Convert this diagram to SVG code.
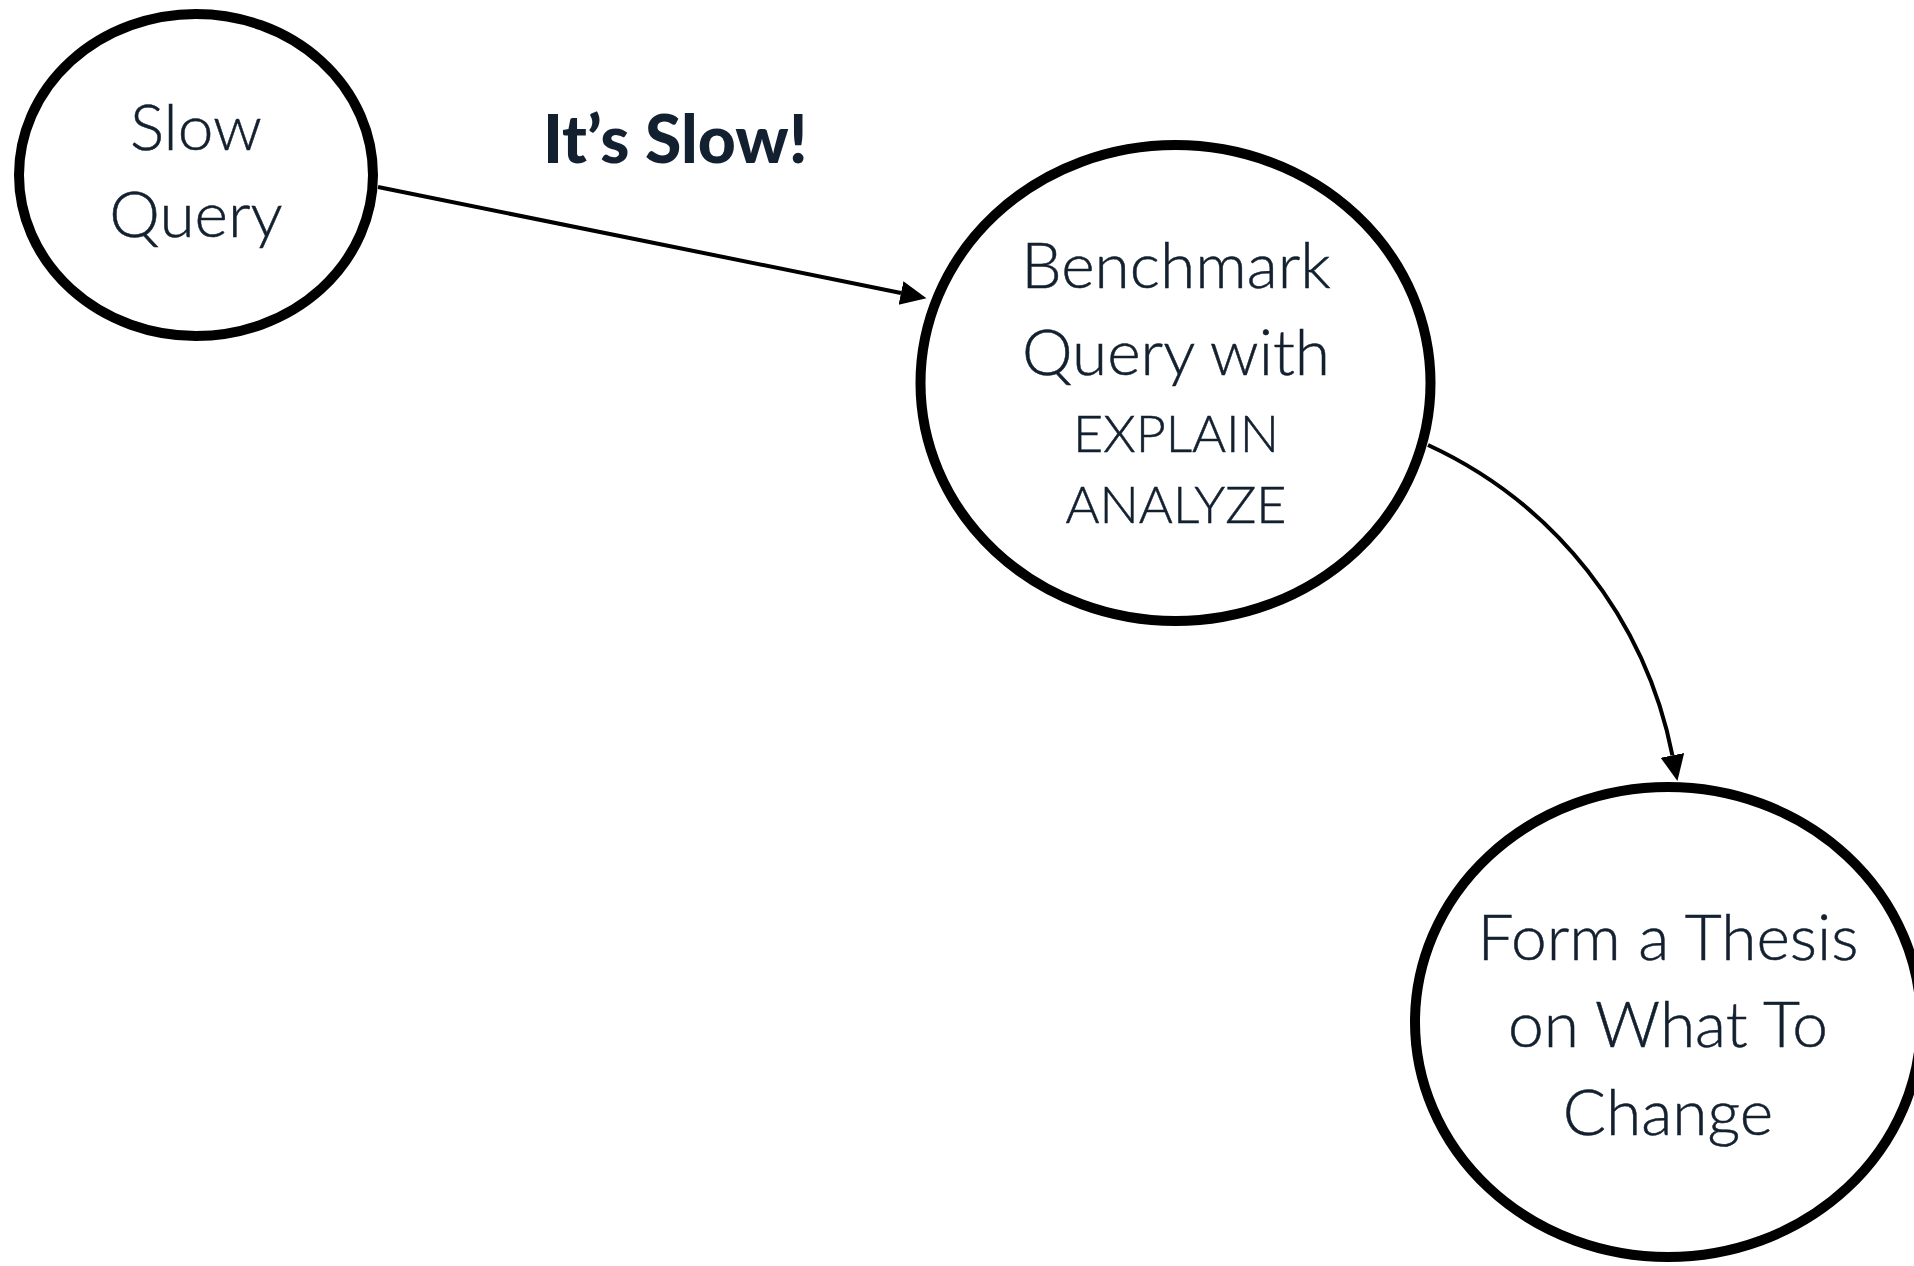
<svg xmlns="http://www.w3.org/2000/svg" width="1914" height="1266" viewBox="0 0 1914 1266">
  <style>
    .node { fill: #ffffff; stroke: #000000; stroke-width: 10; }
    .label { font-family: Lato, "Open Sans", "Liberation Sans", sans-serif; font-weight: 300; fill: #13202f; stroke: #13202f; stroke-width: 0.5; text-anchor: middle; }
    .big { font-size: 64px; }
    .small { font-size: 52px; }
    .edge { fill: none; stroke: #000000; stroke-width: 4; }
    .edge-label { font-family: Lato, "Liberation Sans", sans-serif; font-weight: 900; font-size: 66px; fill: #13202f; }
  </style>
  <defs>
    <marker id="arrow" markerUnits="userSpaceOnUse" markerWidth="28" markerHeight="26" refX="0" refY="12" orient="auto">
      <path d="M0,0 L26,12 L0,24 z" fill="#000000"/>
    </marker>
  </defs>
  <rect width="1914" height="1266" fill="#ffffff"/>

  <g id="connectors">
    <path class="edge" d="M378,187 L901,293" marker-end="url(#arrow)"/>
    <path class="edge" d="M1428,445 A434,434 0 0,1 1672.4,755.4" marker-end="url(#arrow)"/>
    <text class="edge-label" x="543" y="163">It’s Slow!</text>
  </g>

  <g id="node-slow-query">
    <ellipse class="node" cx="196" cy="175" rx="177" ry="161"/>
    <text class="label big" x="196" y="150">Slow</text>
    <text class="label big" x="196" y="237">Query</text>
  </g>

  <g id="node-benchmark">
    <ellipse class="node" cx="1175.5" cy="383" rx="255" ry="238"/>
    <text class="label big" x="1176" y="288">Benchmark</text>
    <text class="label big" x="1176" y="375">Query with</text>
    <text class="label small" x="1176" y="452">EXPLAIN</text>
    <text class="label small" x="1176" y="523">ANALYZE</text>
  </g>

  <g id="node-thesis">
    <ellipse class="node" cx="1668" cy="1022" rx="253" ry="235"/>
    <text class="label big" x="1668" y="960">Form a Thesis</text>
    <text class="label big" x="1668" y="1047">on What To</text>
    <text class="label big" x="1668" y="1135">Change</text>
  </g>
</svg>
